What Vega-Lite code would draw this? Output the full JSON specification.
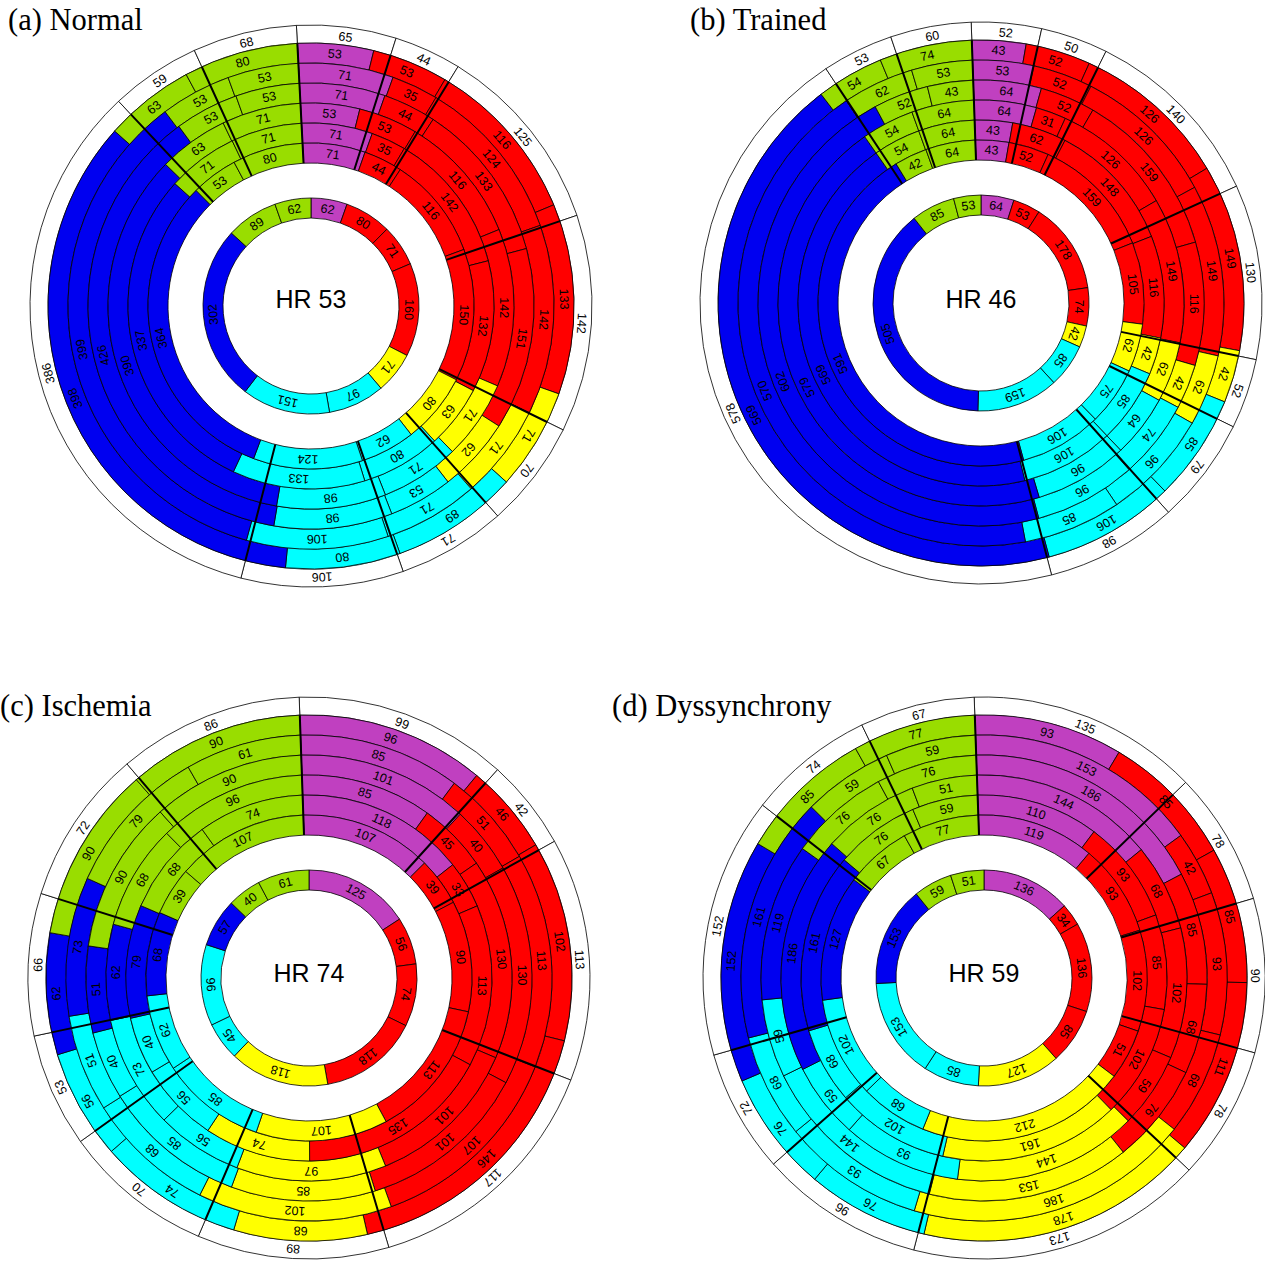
{
"$schema": "https://vega.github.io/schema/vega-lite/v6.json",
"padding": 0,
"background": "white",
"config": {"view": {"stroke": null}},
"datasets": {
"rb": [{"r":0,"rb":1},{"r":1,"rb":2},{"r":2,"rb":3},{"r":3,"rb":4},{"r":4,"rb":5},{"r":5,"rb":6},{"r":6,"rb":7},{"r":8,"rb":9}],
"cells": [
{"p":"a","hr":"HR 53"},
{"p":"a","r":0,"k":0,"v":65,"c":"W"},{"p":"a","r":0,"k":1,"v":44,"c":"W"},{"p":"a","r":0,"k":2,"v":125,"c":"W"},{"p":"a","r":0,"k":3,"v":142,"c":"W"},{"p":"a","r":0,"k":4,"v":70,"c":"W"},{"p":"a","r":0,"k":5,"v":71,"c":"W"},{"p":"a","r":0,"k":6,"v":106,"c":"W"},{"p":"a","r":0,"k":7,"v":386,"c":"W"},{"p":"a","r":0,"k":8,"v":59,"c":"W"},{"p":"a","r":0,"k":9,"v":68,"c":"W"},
{"p":"a","r":1,"k":0,"v":53,"c":"M"},{"p":"a","r":1,"k":1,"v":53,"c":"R"},{"p":"a","r":1,"k":2,"v":116,"c":"R"},{"p":"a","r":1,"k":3,"v":133,"c":"R"},{"p":"a","r":1,"k":4,"v":71,"c":"Y"},{"p":"a","r":1,"k":5,"v":89,"c":"C"},{"p":"a","r":1,"k":6,"v":80,"c":"C"},{"p":"a","r":1,"k":7,"v":398,"c":"B"},{"p":"a","r":1,"k":8,"v":63,"c":"G"},{"p":"a","r":1,"k":9,"v":80,"c":"G"},
{"p":"a","r":2,"k":0,"v":71,"c":"M"},{"p":"a","r":2,"k":1,"v":35,"c":"R"},{"p":"a","r":2,"k":2,"v":124,"c":"R"},{"p":"a","r":2,"k":3,"v":142,"c":"R"},{"p":"a","r":2,"k":4,"v":71,"c":"Y"},{"p":"a","r":2,"k":5,"v":71,"c":"C"},{"p":"a","r":2,"k":6,"v":106,"c":"C"},{"p":"a","r":2,"k":7,"v":399,"c":"B"},{"p":"a","r":2,"k":8,"v":53,"c":"G"},{"p":"a","r":2,"k":9,"v":53,"c":"G"},
{"p":"a","r":3,"k":0,"v":71,"c":"M"},{"p":"a","r":3,"k":1,"v":44,"c":"R"},{"p":"a","r":3,"k":2,"v":133,"c":"R"},{"p":"a","r":3,"k":3,"v":151,"c":"R"},{"p":"a","r":3,"k":4,"v":62,"c":"Y"},{"p":"a","r":3,"k":5,"v":53,"c":"C"},{"p":"a","r":3,"k":6,"v":98,"c":"C"},{"p":"a","r":3,"k":7,"v":426,"c":"B"},{"p":"a","r":3,"k":8,"v":53,"c":"G"},{"p":"a","r":3,"k":9,"v":53,"c":"G"},
{"p":"a","r":4,"k":0,"v":53,"c":"M"},{"p":"a","r":4,"k":1,"v":53,"c":"R"},{"p":"a","r":4,"k":2,"v":116,"c":"R"},{"p":"a","r":4,"k":3,"v":142,"c":"R"},{"p":"a","r":4,"k":4,"v":71,"c":"Y"},{"p":"a","r":4,"k":5,"v":71,"c":"C"},{"p":"a","r":4,"k":6,"v":98,"c":"C"},{"p":"a","r":4,"k":7,"v":390,"c":"B"},{"p":"a","r":4,"k":8,"v":63,"c":"G"},{"p":"a","r":4,"k":9,"v":71,"c":"G"},
{"p":"a","r":5,"k":0,"v":71,"c":"M"},{"p":"a","r":5,"k":1,"v":35,"c":"R"},{"p":"a","r":5,"k":2,"v":142,"c":"R"},{"p":"a","r":5,"k":3,"v":132,"c":"R"},{"p":"a","r":5,"k":4,"v":63,"c":"Y"},{"p":"a","r":5,"k":5,"v":80,"c":"C"},{"p":"a","r":5,"k":6,"v":133,"c":"C"},{"p":"a","r":5,"k":7,"v":337,"c":"B"},{"p":"a","r":5,"k":8,"v":71,"c":"G"},{"p":"a","r":5,"k":9,"v":71,"c":"G"},
{"p":"a","r":6,"k":0,"v":71,"c":"M"},{"p":"a","r":6,"k":1,"v":44,"c":"R"},{"p":"a","r":6,"k":2,"v":116,"c":"R"},{"p":"a","r":6,"k":3,"v":150,"c":"R"},{"p":"a","r":6,"k":4,"v":80,"c":"Y"},{"p":"a","r":6,"k":5,"v":62,"c":"C"},{"p":"a","r":6,"k":6,"v":124,"c":"C"},{"p":"a","r":6,"k":7,"v":364,"c":"B"},{"p":"a","r":6,"k":8,"v":53,"c":"G"},{"p":"a","r":6,"k":9,"v":80,"c":"G"},
{"p":"a","r":8,"k":0,"v":62,"c":"M"},{"p":"a","r":8,"k":1,"v":80,"c":"R"},{"p":"a","r":8,"k":2,"v":71,"c":"R"},{"p":"a","r":8,"k":3,"v":160,"c":"R"},{"p":"a","r":8,"k":4,"v":71,"c":"Y"},{"p":"a","r":8,"k":5,"v":97,"c":"C"},{"p":"a","r":8,"k":6,"v":151,"c":"C"},{"p":"a","r":8,"k":7,"v":302,"c":"B"},{"p":"a","r":8,"k":8,"v":89,"c":"G"},{"p":"a","r":8,"k":9,"v":62,"c":"G"},

{"p":"b","hr":"HR 46"},
{"p":"b","r":0,"k":0,"v":52,"c":"W"},{"p":"b","r":0,"k":1,"v":50,"c":"W"},{"p":"b","r":0,"k":2,"v":140,"c":"W"},{"p":"b","r":0,"k":3,"v":130,"c":"W"},{"p":"b","r":0,"k":4,"v":52,"c":"W"},{"p":"b","r":0,"k":5,"v":79,"c":"W"},{"p":"b","r":0,"k":6,"v":98,"c":"W"},{"p":"b","r":0,"k":7,"v":578,"c":"W"},{"p":"b","r":0,"k":8,"v":53,"c":"W"},{"p":"b","r":0,"k":9,"v":60,"c":"W"},
{"p":"b","r":1,"k":0,"v":43,"c":"M"},{"p":"b","r":1,"k":1,"v":52,"c":"R"},{"p":"b","r":1,"k":2,"v":126,"c":"R"},{"p":"b","r":1,"k":3,"v":149,"c":"R"},{"p":"b","r":1,"k":4,"v":42,"c":"Y"},{"p":"b","r":1,"k":5,"v":85,"c":"C"},{"p":"b","r":1,"k":6,"v":106,"c":"C"},{"p":"b","r":1,"k":7,"v":569,"c":"B"},{"p":"b","r":1,"k":8,"v":54,"c":"G"},{"p":"b","r":1,"k":9,"v":74,"c":"G"},
{"p":"b","r":2,"k":0,"v":53,"c":"M"},{"p":"b","r":2,"k":1,"v":52,"c":"R"},{"p":"b","r":2,"k":2,"v":126,"c":"R"},{"p":"b","r":2,"k":3,"v":149,"c":"R"},{"p":"b","r":2,"k":4,"v":62,"c":"Y"},{"p":"b","r":2,"k":5,"v":96,"c":"C"},{"p":"b","r":2,"k":6,"v":85,"c":"C"},{"p":"b","r":2,"k":7,"v":570,"c":"B"},{"p":"b","r":2,"k":8,"v":62,"c":"G"},{"p":"b","r":2,"k":9,"v":53,"c":"G"},
{"p":"b","r":3,"k":0,"v":64,"c":"M"},{"p":"b","r":3,"k":1,"v":52,"c":"R"},{"p":"b","r":3,"k":2,"v":159,"c":"R"},{"p":"b","r":3,"k":3,"v":116,"c":"R"},{"p":"b","r":3,"k":4,"v":42,"c":"Y"},{"p":"b","r":3,"k":5,"v":74,"c":"C"},{"p":"b","r":3,"k":6,"v":96,"c":"C"},{"p":"b","r":3,"k":7,"v":602,"c":"B"},{"p":"b","r":3,"k":8,"v":52,"c":"G"},{"p":"b","r":3,"k":9,"v":43,"c":"G"},
{"p":"b","r":4,"k":0,"v":64,"c":"M"},{"p":"b","r":4,"k":1,"v":31,"c":"R"},{"p":"b","r":4,"k":2,"v":126,"c":"R"},{"p":"b","r":4,"k":3,"v":149,"c":"R"},{"p":"b","r":4,"k":4,"v":62,"c":"Y"},{"p":"b","r":4,"k":5,"v":64,"c":"C"},{"p":"b","r":4,"k":6,"v":96,"c":"C"},{"p":"b","r":4,"k":7,"v":579,"c":"B"},{"p":"b","r":4,"k":8,"v":54,"c":"G"},{"p":"b","r":4,"k":9,"v":64,"c":"G"},
{"p":"b","r":5,"k":0,"v":43,"c":"M"},{"p":"b","r":5,"k":1,"v":62,"c":"R"},{"p":"b","r":5,"k":2,"v":148,"c":"R"},{"p":"b","r":5,"k":3,"v":116,"c":"R"},{"p":"b","r":5,"k":4,"v":42,"c":"Y"},{"p":"b","r":5,"k":5,"v":85,"c":"C"},{"p":"b","r":5,"k":6,"v":106,"c":"C"},{"p":"b","r":5,"k":7,"v":569,"c":"B"},{"p":"b","r":5,"k":8,"v":54,"c":"G"},{"p":"b","r":5,"k":9,"v":64,"c":"G"},
{"p":"b","r":6,"k":0,"v":43,"c":"M"},{"p":"b","r":6,"k":1,"v":52,"c":"R"},{"p":"b","r":6,"k":2,"v":159,"c":"R"},{"p":"b","r":6,"k":3,"v":105,"c":"R"},{"p":"b","r":6,"k":4,"v":62,"c":"Y"},{"p":"b","r":6,"k":5,"v":75,"c":"C"},{"p":"b","r":6,"k":6,"v":106,"c":"C"},{"p":"b","r":6,"k":7,"v":591,"c":"B"},{"p":"b","r":6,"k":8,"v":42,"c":"G"},{"p":"b","r":6,"k":9,"v":64,"c":"G"},
{"p":"b","r":8,"k":0,"v":64,"c":"M"},{"p":"b","r":8,"k":1,"v":53,"c":"R"},{"p":"b","r":8,"k":2,"v":178,"c":"R"},{"p":"b","r":8,"k":3,"v":74,"c":"R"},{"p":"b","r":8,"k":4,"v":42,"c":"Y"},{"p":"b","r":8,"k":5,"v":85,"c":"C"},{"p":"b","r":8,"k":6,"v":159,"c":"C"},{"p":"b","r":8,"k":7,"v":505,"c":"B"},{"p":"b","r":8,"k":8,"v":85,"c":"G"},{"p":"b","r":8,"k":9,"v":53,"c":"G"},

{"p":"c","hr":"HR 74"},
{"p":"c","r":0,"k":0,"v":99,"c":"W"},{"p":"c","r":0,"k":1,"v":42,"c":"W"},{"p":"c","r":0,"k":2,"v":113,"c":"W"},{"p":"c","r":0,"k":3,"v":117,"c":"W"},{"p":"c","r":0,"k":4,"v":89,"c":"W"},{"p":"c","r":0,"k":5,"v":70,"c":"W"},{"p":"c","r":0,"k":6,"v":53,"c":"W"},{"p":"c","r":0,"k":7,"v":66,"c":"W"},{"p":"c","r":0,"k":8,"v":72,"c":"W"},{"p":"c","r":0,"k":9,"v":86,"c":"W"},
{"p":"c","r":1,"k":0,"v":96,"c":"M"},{"p":"c","r":1,"k":1,"v":46,"c":"R"},{"p":"c","r":1,"k":2,"v":102,"c":"R"},{"p":"c","r":1,"k":3,"v":146,"c":"R"},{"p":"c","r":1,"k":4,"v":68,"c":"Y"},{"p":"c","r":1,"k":5,"v":74,"c":"C"},{"p":"c","r":1,"k":6,"v":56,"c":"C"},{"p":"c","r":1,"k":7,"v":62,"c":"B"},{"p":"c","r":1,"k":8,"v":90,"c":"G"},{"p":"c","r":1,"k":9,"v":90,"c":"G"},
{"p":"c","r":2,"k":0,"v":85,"c":"M"},{"p":"c","r":2,"k":1,"v":51,"c":"R"},{"p":"c","r":2,"k":2,"v":113,"c":"R"},{"p":"c","r":2,"k":3,"v":107,"c":"R"},{"p":"c","r":2,"k":4,"v":102,"c":"Y"},{"p":"c","r":2,"k":5,"v":68,"c":"C"},{"p":"c","r":2,"k":6,"v":51,"c":"C"},{"p":"c","r":2,"k":7,"v":73,"c":"B"},{"p":"c","r":2,"k":8,"v":79,"c":"G"},{"p":"c","r":2,"k":9,"v":61,"c":"G"},
{"p":"c","r":3,"k":0,"v":101,"c":"M"},{"p":"c","r":3,"k":1,"v":40,"c":"R"},{"p":"c","r":3,"k":2,"v":130,"c":"R"},{"p":"c","r":3,"k":3,"v":101,"c":"R"},{"p":"c","r":3,"k":4,"v":85,"c":"Y"},{"p":"c","r":3,"k":5,"v":85,"c":"C"},{"p":"c","r":3,"k":6,"v":40,"c":"C"},{"p":"c","r":3,"k":7,"v":51,"c":"B"},{"p":"c","r":3,"k":8,"v":90,"c":"G"},{"p":"c","r":3,"k":9,"v":90,"c":"G"},
{"p":"c","r":4,"k":0,"v":85,"c":"M"},{"p":"c","r":4,"k":1,"v":45,"c":"R"},{"p":"c","r":4,"k":2,"v":130,"c":"R"},{"p":"c","r":4,"k":3,"v":101,"c":"R"},{"p":"c","r":4,"k":4,"v":97,"c":"Y"},{"p":"c","r":4,"k":5,"v":56,"c":"C"},{"p":"c","r":4,"k":6,"v":73,"c":"C"},{"p":"c","r":4,"k":7,"v":62,"c":"B"},{"p":"c","r":4,"k":8,"v":68,"c":"G"},{"p":"c","r":4,"k":9,"v":96,"c":"G"},
{"p":"c","r":5,"k":0,"v":118,"c":"M"},{"p":"c","r":5,"k":1,"v":33,"c":"R"},{"p":"c","r":5,"k":2,"v":113,"c":"R"},{"p":"c","r":5,"k":3,"v":135,"c":"R"},{"p":"c","r":5,"k":4,"v":74,"c":"Y"},{"p":"c","r":5,"k":5,"v":56,"c":"C"},{"p":"c","r":5,"k":6,"v":40,"c":"C"},{"p":"c","r":5,"k":7,"v":79,"c":"B"},{"p":"c","r":5,"k":8,"v":68,"c":"G"},{"p":"c","r":5,"k":9,"v":74,"c":"G"},
{"p":"c","r":6,"k":0,"v":107,"c":"M"},{"p":"c","r":6,"k":1,"v":39,"c":"R"},{"p":"c","r":6,"k":2,"v":90,"c":"R"},{"p":"c","r":6,"k":3,"v":113,"c":"R"},{"p":"c","r":6,"k":4,"v":107,"c":"Y"},{"p":"c","r":6,"k":5,"v":85,"c":"C"},{"p":"c","r":6,"k":6,"v":62,"c":"C"},{"p":"c","r":6,"k":7,"v":68,"c":"B"},{"p":"c","r":6,"k":8,"v":39,"c":"G"},{"p":"c","r":6,"k":9,"v":107,"c":"G"},
{"p":"c","r":8,"k":0,"v":125,"c":"M"},{"p":"c","r":8,"k":1,"v":56,"c":"R"},{"p":"c","r":8,"k":2,"v":74,"c":"R"},{"p":"c","r":8,"k":3,"v":118,"c":"R"},{"p":"c","r":8,"k":4,"v":118,"c":"Y"},{"p":"c","r":8,"k":5,"v":45,"c":"C"},{"p":"c","r":8,"k":6,"v":96,"c":"C"},{"p":"c","r":8,"k":7,"v":57,"c":"B"},{"p":"c","r":8,"k":8,"v":40,"c":"G"},{"p":"c","r":8,"k":9,"v":61,"c":"G"},

{"p":"d","hr":"HR 59"},
{"p":"d","r":0,"k":0,"v":135,"c":"W"},{"p":"d","r":0,"k":1,"v":78,"c":"W"},{"p":"d","r":0,"k":2,"v":90,"c":"W"},{"p":"d","r":0,"k":3,"v":78,"c":"W"},{"p":"d","r":0,"k":4,"v":173,"c":"W"},{"p":"d","r":0,"k":5,"v":96,"c":"W"},{"p":"d","r":0,"k":6,"v":72,"c":"W"},{"p":"d","r":0,"k":7,"v":152,"c":"W"},{"p":"d","r":0,"k":8,"v":74,"c":"W"},{"p":"d","r":0,"k":9,"v":67,"c":"W"},
{"p":"d","r":1,"k":0,"v":93,"c":"M"},{"p":"d","r":1,"k":1,"v":85,"c":"R"},{"p":"d","r":1,"k":2,"v":85,"c":"R"},{"p":"d","r":1,"k":3,"v":111,"c":"R"},{"p":"d","r":1,"k":4,"v":178,"c":"Y"},{"p":"d","r":1,"k":5,"v":76,"c":"C"},{"p":"d","r":1,"k":6,"v":76,"c":"C"},{"p":"d","r":1,"k":7,"v":152,"c":"B"},{"p":"d","r":1,"k":8,"v":85,"c":"G"},{"p":"d","r":1,"k":9,"v":77,"c":"G"},
{"p":"d","r":2,"k":0,"v":153,"c":"M"},{"p":"d","r":2,"k":1,"v":42,"c":"R"},{"p":"d","r":2,"k":2,"v":93,"c":"R"},{"p":"d","r":2,"k":3,"v":68,"c":"R"},{"p":"d","r":2,"k":4,"v":186,"c":"Y"},{"p":"d","r":2,"k":5,"v":93,"c":"C"},{"p":"d","r":2,"k":6,"v":68,"c":"C"},{"p":"d","r":2,"k":7,"v":161,"c":"B"},{"p":"d","r":2,"k":8,"v":59,"c":"G"},{"p":"d","r":2,"k":9,"v":59,"c":"G"},
{"p":"d","r":3,"k":0,"v":186,"c":"M"},{"p":"d","r":3,"k":1,"v":85,"c":"R"},{"p":"d","r":3,"k":2,"v":68,"c":"R"},{"p":"d","r":3,"k":3,"v":76,"c":"R"},{"p":"d","r":3,"k":4,"v":153,"c":"Y"},{"p":"d","r":3,"k":5,"v":144,"c":"C"},{"p":"d","r":3,"k":6,"v":59,"c":"C"},{"p":"d","r":3,"k":7,"v":119,"c":"B"},{"p":"d","r":3,"k":8,"v":76,"c":"G"},{"p":"d","r":3,"k":9,"v":76,"c":"G"},
{"p":"d","r":4,"k":0,"v":144,"c":"M"},{"p":"d","r":4,"k":1,"v":68,"c":"R"},{"p":"d","r":4,"k":2,"v":102,"c":"R"},{"p":"d","r":4,"k":3,"v":59,"c":"R"},{"p":"d","r":4,"k":4,"v":144,"c":"Y"},{"p":"d","r":4,"k":5,"v":93,"c":"C"},{"p":"d","r":4,"k":6,"v":59,"c":"C"},{"p":"d","r":4,"k":7,"v":186,"c":"B"},{"p":"d","r":4,"k":8,"v":76,"c":"G"},{"p":"d","r":4,"k":9,"v":51,"c":"G"},
{"p":"d","r":5,"k":0,"v":110,"c":"M"},{"p":"d","r":5,"k":1,"v":93,"c":"R"},{"p":"d","r":5,"k":2,"v":85,"c":"R"},{"p":"d","r":5,"k":3,"v":102,"c":"R"},{"p":"d","r":5,"k":4,"v":161,"c":"Y"},{"p":"d","r":5,"k":5,"v":102,"c":"C"},{"p":"d","r":5,"k":6,"v":68,"c":"C"},{"p":"d","r":5,"k":7,"v":161,"c":"B"},{"p":"d","r":5,"k":8,"v":76,"c":"G"},{"p":"d","r":5,"k":9,"v":59,"c":"G"},
{"p":"d","r":6,"k":0,"v":119,"c":"M"},{"p":"d","r":6,"k":1,"v":93,"c":"R"},{"p":"d","r":6,"k":2,"v":102,"c":"R"},{"p":"d","r":6,"k":3,"v":51,"c":"R"},{"p":"d","r":6,"k":4,"v":212,"c":"Y"},{"p":"d","r":6,"k":5,"v":68,"c":"C"},{"p":"d","r":6,"k":6,"v":102,"c":"C"},{"p":"d","r":6,"k":7,"v":127,"c":"B"},{"p":"d","r":6,"k":8,"v":67,"c":"G"},{"p":"d","r":6,"k":9,"v":77,"c":"G"},
{"p":"d","r":8,"k":0,"v":136,"c":"M"},{"p":"d","r":8,"k":1,"v":34,"c":"R"},{"p":"d","r":8,"k":2,"v":136,"c":"R"},{"p":"d","r":8,"k":3,"v":85,"c":"R"},{"p":"d","r":8,"k":4,"v":127,"c":"Y"},{"p":"d","r":8,"k":5,"v":85,"c":"C"},{"p":"d","r":8,"k":6,"v":153,"c":"C"},{"p":"d","r":8,"k":7,"v":153,"c":"B"},{"p":"d","r":8,"k":8,"v":59,"c":"G"},{"p":"d","r":8,"k":9,"v":51,"c":"G"}
]
},
"spacing": 79,
"vconcat": [
{"spacing": 75, "bounds": "flush", "hconcat": [
{"width": 622, "height": 612,
 "title": {"text": "(a) Normal", "anchor": "start", "frame": "group", "offset": -60, "baseline": "alphabetic", "dx": 8, "font": "Liberation Serif", "fontSize": 30.5, "fontWeight": "normal", "color": "#000"},
 "data": {"name": "cells"},
 "transform": [{"filter": "datum.p == 'a'"}, {"lookup": "r", "from": {"data": {"name": "rb"}, "key": "r", "fields": ["rb"]}}],
 "resolve": {"scale": {"theta": "independent"}},
 "layer": [
  {"transform": [{"filter": "datum.r <= 6"}],
   "mark": {"type": "arc", "stroke": "#000", "strokeWidth": 0.8},
   "encoding": {
    "theta": {"field": "v", "type": "quantitative", "stack": "normalize", "scale": {"domain": [0, 1], "range": [-0.052, 6.2312]}},
    "order": {"field": "k", "type": "quantitative"},
    "radius": {"field": "r", "type": "quantitative", "scale": {"type": "linear", "domain": [0,1,2,3,4,5,6,7,8,9], "range": [281,263,243,223,203,183,163,143,108,88], "zero": false, "nice": false}},
    "radius2": {"field": "rb"},
    "color": {"field": "c", "type": "nominal", "legend": null, "scale": {"domain": ["B","G","M","R","Y","C","W"], "range": ["#0000f0","#99dd00","#c040c0","#ff0000","#ffff00","#00ffff","#ffffff"]}}
   }},
  {"transform": [{"filter": "datum.r <= 6"}],
   "mark": {"type": "text", "radiusOffset": -10, "font": "Liberation Sans", "fontSize": 12.5, "color": "#000", "align": "center", "baseline": "middle", "angle": {"expr": "(datum.v_start + datum.v_end) * 180 - 3"}},
   "encoding": {
    "theta": {"field": "v", "type": "quantitative", "stack": "normalize", "scale": {"domain": [0, 1], "range": [-0.052, 6.2312]}},
    "order": {"field": "k", "type": "quantitative"},
    "radius": {"field": "r", "type": "quantitative"},
    "text": {"field": "v", "type": "quantitative"}
   }},
  {"transform": [{"filter": "datum.r == 0"}, {"stack": "v", "groupby": [], "sort": [{"field": "k", "order": "ascending"}], "offset": "normalize", "as": ["t0", "t1"]}],
   "mark": {"type": "arc", "radius": 263, "radius2": 143, "stroke": "#000", "strokeWidth": 2, "filled": false},
   "encoding": {
    "theta": {"field": "t0", "type": "quantitative", "stack": null, "scale": {"domain": [0, 1], "range": [-0.052, 6.2312]}},
    "theta2": {"field": "t0"}
   }},
  {"transform": [{"filter": "datum.r == 8"}],
   "mark": {"type": "arc", "stroke": "#000", "strokeWidth": 0.8},
   "encoding": {
    "theta": {"field": "v", "type": "quantitative", "stack": "normalize", "scale": {"domain": [0, 1], "range": [0, 6.2832]}},
    "order": {"field": "k", "type": "quantitative"},
    "radius": {"field": "r", "type": "quantitative"},
    "radius2": {"field": "rb"},
    "color": {"field": "c", "type": "nominal", "legend": null}
   }},
  {"transform": [{"filter": "datum.r == 8"}],
   "mark": {"type": "text", "radiusOffset": -10, "font": "Liberation Sans", "fontSize": 12.5, "color": "#000", "align": "center", "baseline": "middle", "angle": {"expr": "(datum.v_start + datum.v_end) * 180"}},
   "encoding": {
    "theta": {"field": "v", "type": "quantitative", "stack": "normalize", "scale": {"domain": [0, 1], "range": [0, 6.2832]}},
    "order": {"field": "k", "type": "quantitative"},
    "radius": {"field": "r", "type": "quantitative"},
    "text": {"field": "v", "type": "quantitative"}
   }},
  {"transform": [{"filter": "isValid(datum.hr)"}],
   "mark": {"type": "text", "font": "Liberation Sans", "fontSize": 25, "color": "#000", "align": "center", "baseline": "middle", "dy": -6},
   "encoding": {"text": {"field": "hr", "type": "nominal"}}}
 ]},
{"width": 568, "height": 606,
 "title": {"text": "(b) Trained", "anchor": "start", "frame": "group", "offset": -60, "baseline": "alphabetic", "dx": -7, "font": "Liberation Serif", "fontSize": 30.5, "fontWeight": "normal", "color": "#000"},
 "data": {"name": "cells"},
 "transform": [{"filter": "datum.p == 'b'"}, {"lookup": "r", "from": {"data": {"name": "rb"}, "key": "r", "fields": ["rb"]}}],
 "resolve": {"scale": {"theta": "independent"}},
 "layer": [
  {"transform": [{"filter": "datum.r <= 6"}],
   "mark": {"type": "arc", "stroke": "#000", "strokeWidth": 0.8},
   "encoding": {
    "theta": {"field": "v", "type": "quantitative", "stack": "normalize", "scale": {"domain": [0, 1], "range": [-0.035, 6.2482]}},
    "order": {"field": "k", "type": "quantitative"},
    "radius": {"field": "r", "type": "quantitative", "scale": {"type": "linear", "domain": [0,1,2,3,4,5,6,7,8,9], "range": [281,263,243,223,203,183,163,143,108,88], "zero": false, "nice": false}},
    "radius2": {"field": "rb"},
    "color": {"field": "c", "type": "nominal", "legend": null, "scale": {"domain": ["B","G","M","R","Y","C","W"], "range": ["#0000f0","#99dd00","#c040c0","#ff0000","#ffff00","#00ffff","#ffffff"]}}
   }},
  {"transform": [{"filter": "datum.r <= 6"}],
   "mark": {"type": "text", "radiusOffset": -10, "font": "Liberation Sans", "fontSize": 12.5, "color": "#000", "align": "center", "baseline": "middle", "angle": {"expr": "(datum.v_start + datum.v_end) * 180 - 2"}},
   "encoding": {
    "theta": {"field": "v", "type": "quantitative", "stack": "normalize", "scale": {"domain": [0, 1], "range": [-0.035, 6.2482]}},
    "order": {"field": "k", "type": "quantitative"},
    "radius": {"field": "r", "type": "quantitative"},
    "text": {"field": "v", "type": "quantitative"}
   }},
  {"transform": [{"filter": "datum.r == 0"}, {"stack": "v", "groupby": [], "sort": [{"field": "k", "order": "ascending"}], "offset": "normalize", "as": ["t0", "t1"]}],
   "mark": {"type": "arc", "radius": 263, "radius2": 143, "stroke": "#000", "strokeWidth": 2, "filled": false},
   "encoding": {
    "theta": {"field": "t0", "type": "quantitative", "stack": null, "scale": {"domain": [0, 1], "range": [-0.035, 6.2482]}},
    "theta2": {"field": "t0"}
   }},
  {"transform": [{"filter": "datum.r == 8"}],
   "mark": {"type": "arc", "stroke": "#000", "strokeWidth": 0.8},
   "encoding": {
    "theta": {"field": "v", "type": "quantitative", "stack": "normalize", "scale": {"domain": [0, 1], "range": [0, 6.2832]}},
    "order": {"field": "k", "type": "quantitative"},
    "radius": {"field": "r", "type": "quantitative"},
    "radius2": {"field": "rb"},
    "color": {"field": "c", "type": "nominal", "legend": null}
   }},
  {"transform": [{"filter": "datum.r == 8"}],
   "mark": {"type": "text", "radiusOffset": -10, "font": "Liberation Sans", "fontSize": 12.5, "color": "#000", "align": "center", "baseline": "middle", "angle": {"expr": "(datum.v_start + datum.v_end) * 180"}},
   "encoding": {
    "theta": {"field": "v", "type": "quantitative", "stack": "normalize", "scale": {"domain": [0, 1], "range": [0, 6.2832]}},
    "order": {"field": "k", "type": "quantitative"},
    "radius": {"field": "r", "type": "quantitative"},
    "text": {"field": "v", "type": "quantitative"}
   }},
  {"transform": [{"filter": "isValid(datum.hr)"}],
   "mark": {"type": "text", "font": "Liberation Sans", "fontSize": 25, "color": "#000", "align": "center", "baseline": "middle", "dy": -3},
   "encoding": {"text": {"field": "hr", "type": "nominal"}}}
 ]}
]},
{"spacing": 85, "bounds": "flush", "hconcat": [
{"width": 618, "height": 572,
 "title": {"text": "(c) Ischemia", "anchor": "start", "frame": "group", "offset": -54, "baseline": "alphabetic", "dx": 0, "font": "Liberation Serif", "fontSize": 30.5, "fontWeight": "normal", "color": "#000"},
 "data": {"name": "cells"},
 "transform": [{"filter": "datum.p == 'c'"}, {"lookup": "r", "from": {"data": {"name": "rb"}, "key": "r", "fields": ["rb"]}}],
 "resolve": {"scale": {"theta": "independent"}},
 "layer": [
  {"transform": [{"filter": "datum.r <= 6"}],
   "mark": {"type": "arc", "stroke": "#000", "strokeWidth": 0.8},
   "encoding": {
    "theta": {"field": "v", "type": "quantitative", "stack": "normalize", "scale": {"domain": [0, 1], "range": [-0.035, 6.2482]}},
    "order": {"field": "k", "type": "quantitative"},
    "radius": {"field": "r", "type": "quantitative", "scale": {"type": "linear", "domain": [0,1,2,3,4,5,6,7,8,9], "range": [281,263,243,223,203,183,163,143,108,88], "zero": false, "nice": false}},
    "radius2": {"field": "rb"},
    "color": {"field": "c", "type": "nominal", "legend": null, "scale": {"domain": ["B","G","M","R","Y","C","W"], "range": ["#0000f0","#99dd00","#c040c0","#ff0000","#ffff00","#00ffff","#ffffff"]}}
   }},
  {"transform": [{"filter": "datum.r <= 6"}],
   "mark": {"type": "text", "radiusOffset": -10, "font": "Liberation Sans", "fontSize": 12.5, "color": "#000", "align": "center", "baseline": "middle", "angle": {"expr": "(datum.v_start + datum.v_end) * 180 - 2"}},
   "encoding": {
    "theta": {"field": "v", "type": "quantitative", "stack": "normalize", "scale": {"domain": [0, 1], "range": [-0.035, 6.2482]}},
    "order": {"field": "k", "type": "quantitative"},
    "radius": {"field": "r", "type": "quantitative"},
    "text": {"field": "v", "type": "quantitative"}
   }},
  {"transform": [{"filter": "datum.r == 0"}, {"stack": "v", "groupby": [], "sort": [{"field": "k", "order": "ascending"}], "offset": "normalize", "as": ["t0", "t1"]}],
   "mark": {"type": "arc", "radius": 263, "radius2": 143, "stroke": "#000", "strokeWidth": 2, "filled": false},
   "encoding": {
    "theta": {"field": "t0", "type": "quantitative", "stack": null, "scale": {"domain": [0, 1], "range": [-0.035, 6.2482]}},
    "theta2": {"field": "t0"}
   }},
  {"transform": [{"filter": "datum.r == 8"}],
   "mark": {"type": "arc", "stroke": "#000", "strokeWidth": 0.8},
   "encoding": {
    "theta": {"field": "v", "type": "quantitative", "stack": "normalize", "scale": {"domain": [0, 1], "range": [0, 6.2832]}},
    "order": {"field": "k", "type": "quantitative"},
    "radius": {"field": "r", "type": "quantitative"},
    "radius2": {"field": "rb"},
    "color": {"field": "c", "type": "nominal", "legend": null}
   }},
  {"transform": [{"filter": "datum.r == 8"}],
   "mark": {"type": "text", "radiusOffset": -10, "font": "Liberation Sans", "fontSize": 12.5, "color": "#000", "align": "center", "baseline": "middle", "angle": {"expr": "(datum.v_start + datum.v_end) * 180"}},
   "encoding": {
    "theta": {"field": "v", "type": "quantitative", "stack": "normalize", "scale": {"domain": [0, 1], "range": [0, 6.2832]}},
    "order": {"field": "k", "type": "quantitative"},
    "radius": {"field": "r", "type": "quantitative"},
    "text": {"field": "v", "type": "quantitative"}
   }},
  {"transform": [{"filter": "isValid(datum.hr)"}],
   "mark": {"type": "text", "font": "Liberation Sans", "fontSize": 25, "color": "#000", "align": "center", "baseline": "middle", "dy": -4},
   "encoding": {"text": {"field": "hr", "type": "nominal"}}}
 ]},
{"width": 562, "height": 572,
 "title": {"text": "(d) Dyssynchrony", "anchor": "start", "frame": "group", "offset": -54, "baseline": "alphabetic", "dx": -91, "font": "Liberation Serif", "fontSize": 30.5, "fontWeight": "normal", "color": "#000"},
 "data": {"name": "cells"},
 "transform": [{"filter": "datum.p == 'd'"}, {"lookup": "r", "from": {"data": {"name": "rb"}, "key": "r", "fields": ["rb"]}}],
 "resolve": {"scale": {"theta": "independent"}},
 "layer": [
  {"transform": [{"filter": "datum.r <= 6"}],
   "mark": {"type": "arc", "stroke": "#000", "strokeWidth": 0.8},
   "encoding": {
    "theta": {"field": "v", "type": "quantitative", "stack": "normalize", "scale": {"domain": [0, 1], "range": [-0.035, 6.2482]}},
    "order": {"field": "k", "type": "quantitative"},
    "radius": {"field": "r", "type": "quantitative", "scale": {"type": "linear", "domain": [0,1,2,3,4,5,6,7,8,9], "range": [281,263,243,223,203,183,163,143,108,88], "zero": false, "nice": false}},
    "radius2": {"field": "rb"},
    "color": {"field": "c", "type": "nominal", "legend": null, "scale": {"domain": ["B","G","M","R","Y","C","W"], "range": ["#0000f0","#99dd00","#c040c0","#ff0000","#ffff00","#00ffff","#ffffff"]}}
   }},
  {"transform": [{"filter": "datum.r <= 6"}],
   "mark": {"type": "text", "radiusOffset": -10, "font": "Liberation Sans", "fontSize": 12.5, "color": "#000", "align": "center", "baseline": "middle", "angle": {"expr": "(datum.v_start + datum.v_end) * 180 - 2"}},
   "encoding": {
    "theta": {"field": "v", "type": "quantitative", "stack": "normalize", "scale": {"domain": [0, 1], "range": [-0.035, 6.2482]}},
    "order": {"field": "k", "type": "quantitative"},
    "radius": {"field": "r", "type": "quantitative"},
    "text": {"field": "v", "type": "quantitative"}
   }},
  {"transform": [{"filter": "datum.r == 0"}, {"stack": "v", "groupby": [], "sort": [{"field": "k", "order": "ascending"}], "offset": "normalize", "as": ["t0", "t1"]}],
   "mark": {"type": "arc", "radius": 263, "radius2": 143, "stroke": "#000", "strokeWidth": 2, "filled": false},
   "encoding": {
    "theta": {"field": "t0", "type": "quantitative", "stack": null, "scale": {"domain": [0, 1], "range": [-0.035, 6.2482]}},
    "theta2": {"field": "t0"}
   }},
  {"transform": [{"filter": "datum.r == 8"}],
   "mark": {"type": "arc", "stroke": "#000", "strokeWidth": 0.8},
   "encoding": {
    "theta": {"field": "v", "type": "quantitative", "stack": "normalize", "scale": {"domain": [0, 1], "range": [0, 6.2832]}},
    "order": {"field": "k", "type": "quantitative"},
    "radius": {"field": "r", "type": "quantitative"},
    "radius2": {"field": "rb"},
    "color": {"field": "c", "type": "nominal", "legend": null}
   }},
  {"transform": [{"filter": "datum.r == 8"}],
   "mark": {"type": "text", "radiusOffset": -10, "font": "Liberation Sans", "fontSize": 12.5, "color": "#000", "align": "center", "baseline": "middle", "angle": {"expr": "(datum.v_start + datum.v_end) * 180"}},
   "encoding": {
    "theta": {"field": "v", "type": "quantitative", "stack": "normalize", "scale": {"domain": [0, 1], "range": [0, 6.2832]}},
    "order": {"field": "k", "type": "quantitative"},
    "radius": {"field": "r", "type": "quantitative"},
    "text": {"field": "v", "type": "quantitative"}
   }},
  {"transform": [{"filter": "isValid(datum.hr)"}],
   "mark": {"type": "text", "font": "Liberation Sans", "fontSize": 25, "color": "#000", "align": "center", "baseline": "middle", "dy": -4},
   "encoding": {"text": {"field": "hr", "type": "nominal"}}}
 ]}
]}
]
}
